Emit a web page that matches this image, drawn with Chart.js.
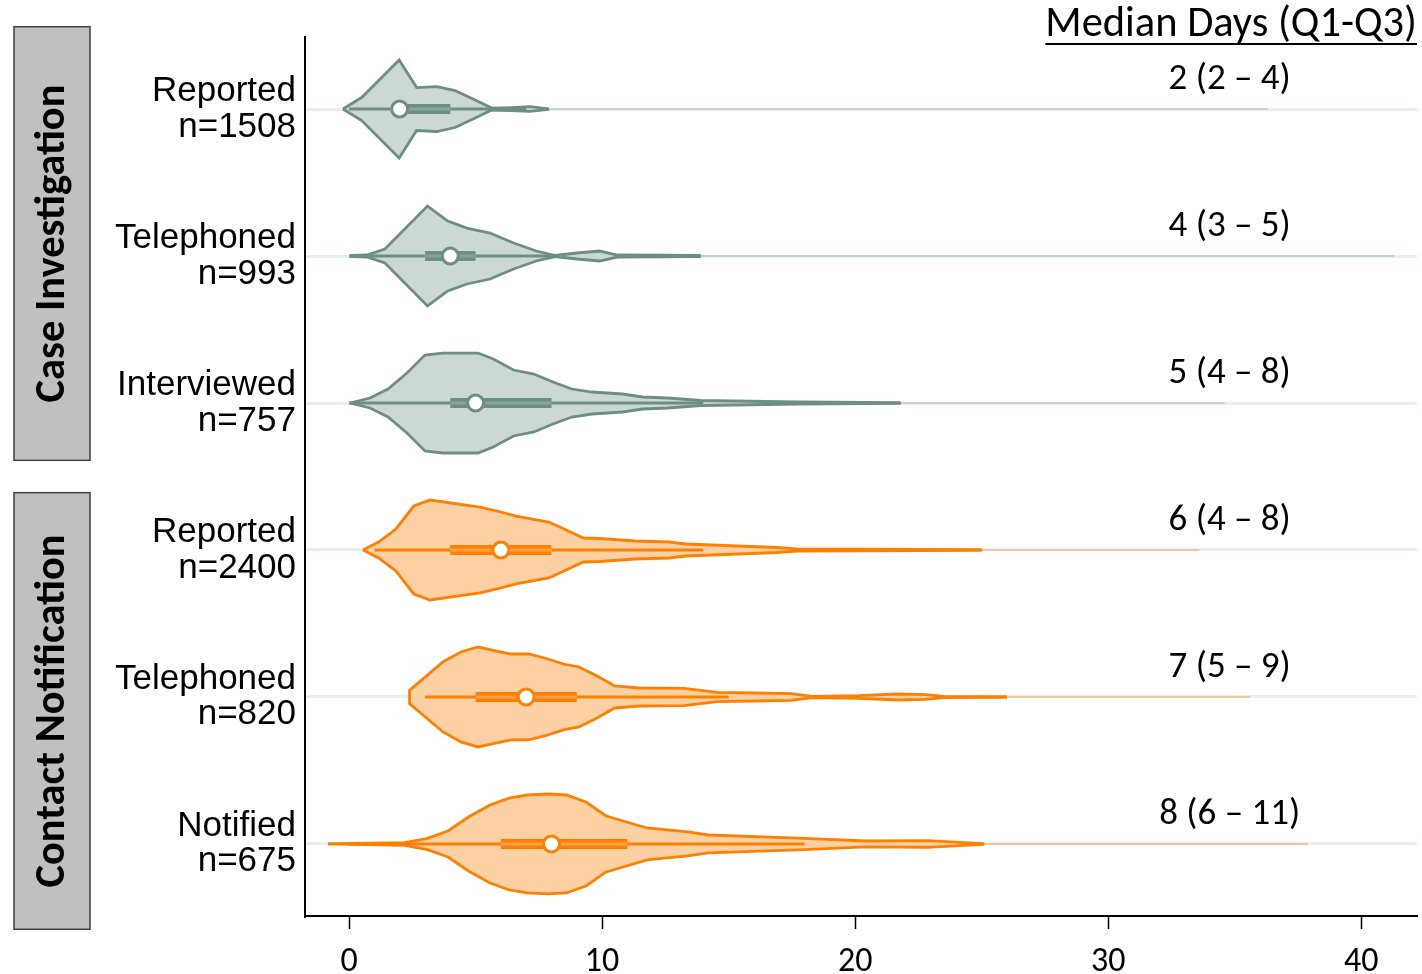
<!DOCTYPE html>
<html>
<head>
<meta charset="utf-8">
<script src="https://cdn.jsdelivr.net/npm/chart.js@4.4.0/dist/chart.umd.min.js"></script>
<style>
  html, body { margin: 0; padding: 0; background: #fff; }
  #wrap { width: 1422px; height: 974px; }
</style>
</head>
<body>
<div id="wrap"><canvas id="violin"></canvas></div>
<script>
// rows, top to bottom
const stages = ['Reported', 'Telephoned', 'Interviewed', 'Reported', 'Telephoned', 'Notified'];
const counts = [1508, 993, 757, 2400, 820, 675];
const groups = ['Case Investigation', 'Contact Notification'];
const groupOf = [0, 0, 0, 1, 1, 1];

// box plot stats (days)
const medians = [2, 4, 5, 6, 7, 8];
const q1 = [2, 3, 4, 4, 5, 6];
const q3 = [4, 5, 8, 8, 9, 11];
const whiskerLow = [0, 0, 0, 1, 3, 0];
const whiskerHigh = [7, 8, 14, 14, 15, 18];
const tailEnd = [36.3, 41.3, 34.6, 33.6, 35.6, 37.9];

// violin outlines: days and relative half-width
const ciReportedDays = [-0.24, 0.5, 1.98, 2.67, 3.47, 4.19, 4.9, 5.64, 6.4, 7.15, 7.9];
const ciReportedDens = [0, 0.23, 0.98, 0.43, 0.45, 0.37, 0.2, 0.02, 0.03, 0.046, 0.005];
const ciPhonedDays = [0.04, 0.7, 1.42, 3.1, 3.9, 4.66, 5.57, 6.5, 7.4, 8.15, 9.0, 9.9, 10.6, 13.9];
const ciPhonedDens = [0.01, 0.02, 0.14, 1.0, 0.7, 0.56, 0.46, 0.26, 0.1, 0.01, 0.06, 0.1, 0.02, 0.012];
const ciInterviewDays = [0.04, 0.83, 1.54, 2.29, 3.0, 3.7, 5.1, 5.7, 6.5, 7.3, 8.06, 8.8, 9.6, 10.8, 11.6, 12.6, 13.9, 17.8, 21.8];
const ciInterviewDens = [0, 0.1, 0.28, 0.6, 0.96, 1, 1, 0.88, 0.66, 0.58, 0.42, 0.28, 0.22, 0.18, 0.12, 0.1, 0.05, 0.02, 0.008];
const cnReportedDays = [0.55, 1.17, 1.85, 2.56, 3.2, 5.17, 5.85, 6.6, 7.9, 8.58, 9.26, 9.9, 11.3, 12.65, 13.3, 16.9, 17.7, 25];
const cnReportedDens = [0, 0.16, 0.42, 0.88, 1, 0.86, 0.78, 0.68, 0.56, 0.4, 0.24, 0.23, 0.18, 0.16, 0.12, 0.05, 0.02, 0.008];
const cnPhonedDays = [2.39, 2.39, 3.71, 4.42, 5.09, 6.39, 7.1, 7.73, 8.47, 9.09, 9.8, 10.5, 11.47, 13.24, 14.56, 16.06, 17.47, 18.3, 20.1, 21.7, 22.77, 23.5, 26];
const cnPhonedDens = [0, 0.13, 0.7, 0.9, 1.0, 0.86, 0.86, 0.78, 0.66, 0.6, 0.42, 0.22, 0.18, 0.174, 0.094, 0.08, 0.066, 0.014, 0.026, 0.06, 0.046, 0.014, 0.006];
const cnNotifiedDays = [-0.83, 0.08, 2.2, 3.1, 3.91, 4.72, 5.57, 6.33, 7.04, 7.84, 8.59, 9.36, 10.16, 11.78, 13.39, 14.2, 18.0, 20.4, 22.87, 24.3, 25.1];
const cnNotifiedDens = [0, 0.01, 0.026, 0.114, 0.26, 0.54, 0.78, 0.92, 0.98, 1, 0.98, 0.84, 0.56, 0.32, 0.24, 0.18, 0.114, 0.06, 0.066, 0.026, 0.006];

const xTicks = [0, 10, 20, 30, 40];

const days = [ciReportedDays, ciPhonedDays, ciInterviewDays, cnReportedDays, cnPhonedDays, cnNotifiedDays];
const dens = [ciReportedDens, ciPhonedDens, ciInterviewDens, cnReportedDens, cnPhonedDens, cnNotifiedDens];

const CAL = 'Carlito, Calibri, Lato, sans-serif';
const COLORS = [
  {line: '#6e8f80', fill: '#ccd8d3', inner: '#86a597', tail: 'rgba(110,143,128,0.3)'},
  {line: '#ff8000', fill: '#fdd1a4', inner: '#ffa04a', tail: 'rgba(255,128,0,0.35)'}
];
const HALF = 0.34; // row units for relative width 1

const datasets = [];
stages.forEach((s, i) => {
  const c = COLORS[groupOf[i]];
  const upper = days[i].map((d, k) => ({x: d, y: i - dens[i][k] * HALF}));
  const lower = days[i].map((d, k) => ({x: d, y: i + dens[i][k] * HALF}));
  const up = datasets.length;
  datasets.push({data: upper, borderColor: c.line, borderWidth: 2.8, pointRadius: 0, fill: false, order: 6});
  datasets.push({data: lower, borderColor: c.line, backgroundColor: c.fill, borderWidth: 2.8, pointRadius: 0,
    fill: {target: up}, order: 6});
  const last = days[i][days[i].length - 1];
  datasets.push({data: [{x: last, y: i}, {x: tailEnd[i], y: i}], borderColor: c.tail, borderWidth: 2, pointRadius: 0, order: 7});
  datasets.push({data: [{x: whiskerLow[i], y: i}, {x: whiskerHigh[i], y: i}], borderColor: c.line, borderWidth: 3, pointRadius: 0, order: 4});
  datasets.push({data: [{x: q1[i], y: i}, {x: q3[i], y: i}], borderColor: c.line, borderWidth: 10, borderCapStyle: 'butt', pointRadius: 0, order: 3});
  datasets.push({data: [{x: q1[i], y: i}, {x: q3[i], y: i}], borderColor: c.inner, borderWidth: 3, borderCapStyle: 'butt', pointRadius: 0, order: 2});
  datasets.push({data: [{x: medians[i], y: i}], showLine: false, pointRadius: 8, pointBackgroundColor: '#fff',
    pointBorderColor: c.line, pointBorderWidth: 3, order: 1});
});

const sidePlugin = {
  id: 'side',
  afterDraw(chart) {
    const {ctx, chartArea, scales: {x, y}} = chart;
    ctx.save();
    ctx.fillStyle = '#000';
    ctx.font = '37px ' + CAL;
    ctx.textAlign = 'center';
    ctx.textBaseline = 'middle';
    stages.forEach((s, i) => {
      ctx.fillText(medians[i] + ' (' + q1[i] + ' \u2013 ' + q3[i] + ')', x.getPixelForValue(34.8), y.getPixelForValue(i - 0.2));
    });
    ctx.textAlign = 'right';
    const head = 'Median Days (Q1-Q3)';
    ctx.font = '42.5px ' + CAL;
    ctx.fillText(head, chartArea.right, 25);
    const hw = ctx.measureText(head).width;
    ctx.fillRect(chartArea.right - hw, 43, hw, 2);

    // group boxes at the left
    const spans = [[-0.56, 2.39], [2.61, 5.58]];
    groups.forEach((g, k) => {
      const top = y.getPixelForValue(spans[k][0]);
      const bot = y.getPixelForValue(spans[k][1]);
      ctx.fillStyle = '#c0c0c0';
      ctx.fillRect(14, top, 76, bot - top);
      ctx.strokeStyle = '#404040';
      ctx.lineWidth = 1.5;
      ctx.strokeRect(14, top, 76, bot - top);
      ctx.save();
      ctx.translate(53, (top + bot) / 2);
      ctx.rotate(-Math.PI / 2);
      ctx.fillStyle = '#000';
      ctx.font = 'bold 42.5px ' + CAL;
      ctx.textAlign = 'center';
      ctx.textBaseline = 'middle';
      ctx.fillText(g, 0, 0);
      ctx.restore();
    });
    ctx.restore();
  }
};

function noPad(s) {
  s.paddingTop = 0; s.paddingBottom = 0; s.paddingLeft = 0; s.paddingRight = 0;
}

new Chart(document.getElementById('violin'), {
  type: 'line',
  data: {datasets: datasets},
  plugins: [sidePlugin],
  options: {
    responsive: true,
    maintainAspectRatio: false,
    animation: false,
    layout: {autoPadding: false, padding: {top: 37, right: 5, left: 0, bottom: 0}},
    plugins: {legend: {display: false}, tooltip: {enabled: false}},
    scales: {
      x: {
        type: 'linear', min: -1.74, max: 42.2,
        afterBuildTicks: s => { s.ticks = xTicks.map(v => ({value: v})); },
        afterFit: s => { s.height = 58; noPad(s); },
        grid: {drawOnChartArea: false, drawTicks: true, tickLength: 13, tickColor: '#000', tickWidth: 1.5},
        border: {color: '#000', width: 2},
        ticks: {color: '#000', font: {family: CAL, size: 34}, padding: 13, maxRotation: 0}
      },
      y: {
        type: 'linear', reverse: true, min: -0.49, max: 5.49,
        afterBuildTicks: s => { s.ticks = stages.map((_, i) => ({value: i})); },
        afterFit: s => { s.width = 305; noPad(s); },
        grid: {color: '#e8efef', lineWidth: 3, drawTicks: false},
        border: {color: '#000', width: 2},
        ticks: {color: '#000', font: {family: 'Liberation Sans, Arial, sans-serif', size: 35, lineHeight: 1.02}, padding: 9,
          callback: v => [stages[v], 'n=' + counts[v]]}
      }
    }
  }
});
</script>
</body>
</html>
